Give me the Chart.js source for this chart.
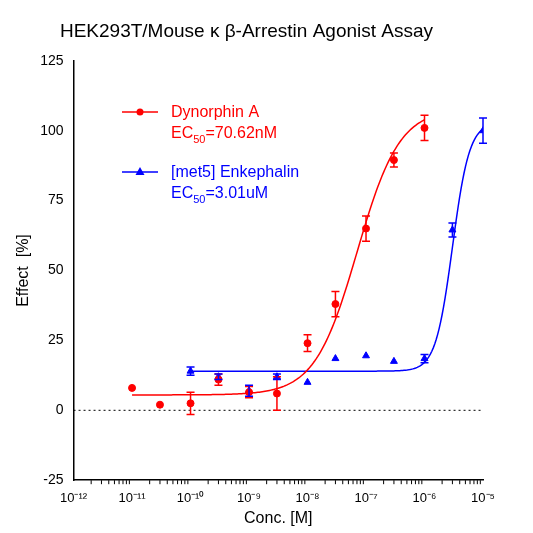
<!DOCTYPE html><html><head><script src="https://cdn.jsdelivr.net/npm/chart.js@4"></script>
<style>body{margin:0;background:#fff}</style></head><body><canvas id="c" width="533" height="533" style="width:533px;height:533px"></canvas>
<script>
const redX=[1e-11,3e-11,1e-10,3e-10,1e-9,3e-9,1e-8,3e-8,1e-7,3e-7,1e-6];
const redY=[8,2,2.5,11,6.5,6,24,38,65,89.5,101];
const redErr=[0,0,4,2,2,6,3,4.5,4.5,2.5,4.5];
const blueX=[1e-10,3e-10,1e-9,3e-9,1e-8,3e-8,1e-7,3e-7,1e-6,3e-6,1e-5];
const blueY=[14,12,7,12,10,18.5,19.5,17.5,18.5,64.5,100];
const blueErr=[1.5,1,2,1,0,0,0,0,1.5,2.5,4.5];
const redFit={bottom:5.5,top:108,ec50:70.62e-9,hill:1.2,from:1e-11,to:1e-6};
const blueFit={bottom:14,top:103,ec50:3.01e-6,hill:3,from:1e-10,to:1e-5};
const xTicks=[-12,-11,-10,-9,-8,-7,-6,-5];
const yTicks=[-25,0,25,50,75,100,125];
const F='Liberation Sans, Arial, sans-serif';
function curve(f){const p=[];const a=Math.log10(f.from),b=Math.log10(f.to);for(let i=0;i<=200;i++){const lx=a+(b-a)*i/200;const x=Math.pow(10,lx);p.push({x,y:f.bottom+(f.top-f.bottom)/(1+Math.pow(f.ec50/x,f.hill))});}return p;}
const sup={'-':'⁻','0':'⁰','1':'¹','2':'²','3':'³','4':'⁴','5':'⁵','6':'⁶','7':'⁷','8':'⁸','9':'⁹'};
const pts=(xs,ys)=>xs.map((x,i)=>({x,y:ys[i]}));
const extras={id:'ex',afterDatasetsDraw(ch){const c=ch.ctx,xs=ch.scales.x,ys=ch.scales.y;
c.save();c.setLineDash([2,3]);c.strokeStyle='#000';c.lineWidth=1;c.beginPath();c.moveTo(xs.left,ys.getPixelForValue(0));c.lineTo(xs.right,ys.getPixelForValue(0));c.stroke();c.setLineDash([]);
[[redX,redY,redErr,'#f00'],[blueX,blueY,blueErr,'#00f']].forEach(([X,Y,E,col])=>{c.strokeStyle=col;c.lineWidth=1.5;X.forEach((x,i)=>{if(!E[i])return;const px=xs.getPixelForValue(x),t=ys.getPixelForValue(Y[i]+E[i]),b=ys.getPixelForValue(Y[i]-E[i]);c.beginPath();c.moveTo(px,t);c.lineTo(px,b);c.moveTo(px-4,t);c.lineTo(px+4,t);c.moveTo(px-4,b);c.lineTo(px+4,b);c.stroke();});});
c.strokeStyle='#000';c.lineWidth=1;const yb=xs.top;
for(let d=-12;d<-5;d++)for(let m=2;m<10;m++){const px=xs.getPixelForValue(m*Math.pow(10,d));c.beginPath();c.moveTo(px,yb);c.lineTo(px,yb+4);c.stroke();}
const leg=[['Dynorphin A','70.62nM','#f00'],['[met5] Enkephalin','3.01uM','#00f']];
leg.forEach((l,i)=>{const y0=117+i*60;c.strokeStyle=l[2];c.fillStyle=l[2];c.lineWidth=1.5;c.beginPath();c.moveTo(122,y0-5);c.lineTo(158,y0-5);c.stroke();
c.beginPath();if(i==0)c.arc(140,y0-5,3.5,0,7);else{c.moveTo(140,y0-10);c.lineTo(144.5,y0-2);c.lineTo(135.5,y0-2);c.closePath();}c.fill();
c.font='16px '+F;c.fillText(l[0],171,y0);c.fillText('EC',171,y0+21);let w=c.measureText('EC').width;c.font='11px '+F;c.fillText('50',171+w,y0+26);const w2=c.measureText('50').width;c.font='16px '+F;c.fillText('='+l[1],171+w+w2,y0+21);});
c.restore();}};
new Chart(document.getElementById('c'),{type:'scatter',data:{datasets:[
{data:curve(redFit),showLine:true,borderColor:'#f00',borderWidth:1.5,pointRadius:0},
{data:curve(blueFit),showLine:true,borderColor:'#00f',borderWidth:1.5,pointRadius:0},
{data:pts(redX,redY),backgroundColor:'#f00',borderColor:'#f00',pointRadius:3.5},
{data:pts(blueX,blueY),backgroundColor:'#00f',borderColor:'#00f',pointStyle:'triangle',pointRadius:4}]},
options:{animation:false,responsive:false,devicePixelRatio:1,layout:{padding:{left:10,right:50,top:10,bottom:5}},
plugins:{legend:{display:false},tooltip:{enabled:false},title:{display:true,text:'HEK293T/Mouse κ β-Arrestin Agonist Assay',color:'#000',font:{size:19,family:F,weight:'normal'},padding:{top:10,bottom:18}}},
scales:{x:{type:'logarithmic',min:1e-12,max:1e-5,offset:false,afterBuildTicks(s){s.ticks=xTicks.map(e=>({value:Math.pow(10,e)}));},
ticks:{color:'#000',font:{size:13,family:F},maxRotation:0,autoSkip:false,callback:v=>'10'+String(Math.round(Math.log10(v))).split('').map(ch=>sup[ch]).join('')},
grid:{display:false,drawTicks:true,tickLength:7,color:'#000'},border:{color:'#000',width:1.5},title:{display:true,text:'Conc. [M]',color:'#000',font:{size:16,family:F},padding:0}},
y:{min:-25,max:125,afterBuildTicks(s){s.ticks=yTicks.map(v=>({value:v}));},ticks:{color:'#000',font:{size:14,family:F}},grid:{display:false,tickLength:7,color:'#000'},border:{color:'#000',width:1.5},title:{display:true,text:'Effect  [%]',color:'#000',font:{size:16,family:F}}}}},
plugins:[extras]});
</script></body></html>
